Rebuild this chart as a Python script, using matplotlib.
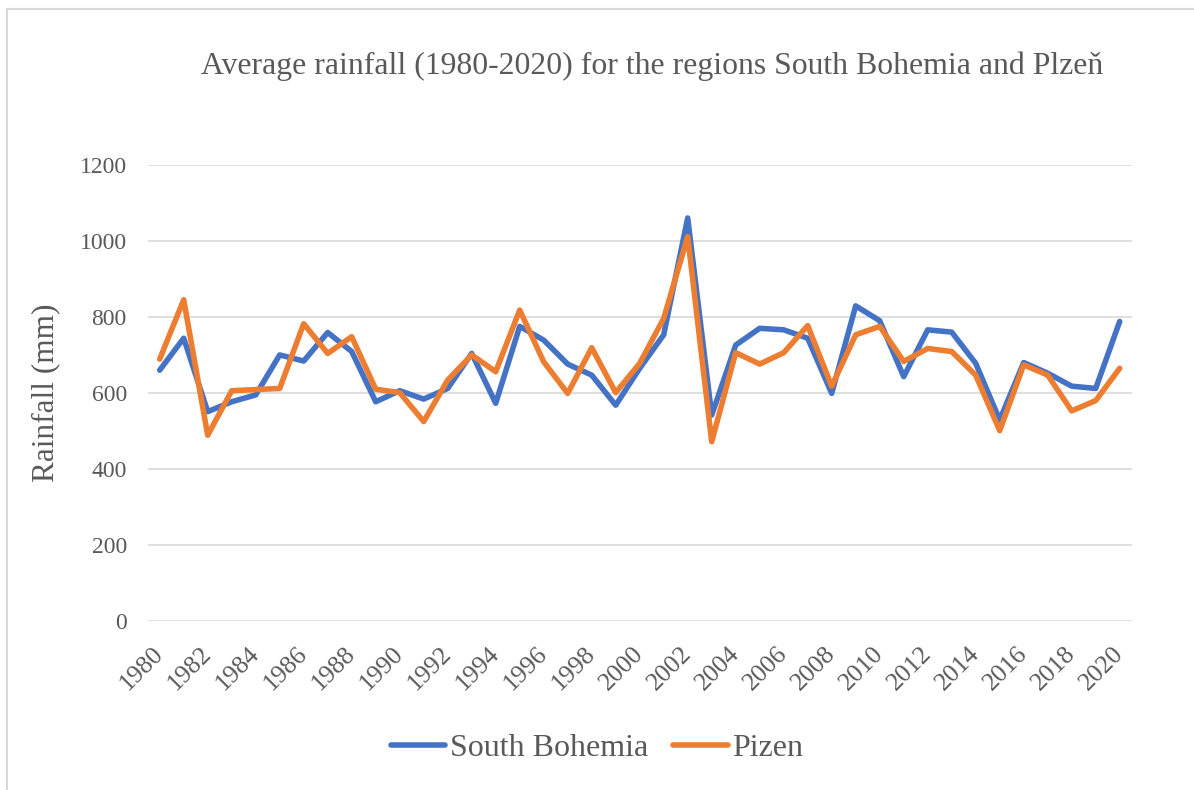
import matplotlib
matplotlib.use("Agg")
import matplotlib.pyplot as plt
from matplotlib.patches import Rectangle

plt.rcParams['font.family'] = ['Liberation Serif', 'DejaVu Serif']

years = list(range(1980, 2021))
south_bohemia = [660, 744, 551, 577, 595, 700, 684, 759, 709, 577,
                 606, 584, 612, 704, 573, 775, 739, 676, 647, 568,
                 665, 753, 1060, 542, 726, 770, 766, 744, 599, 829,
                 790, 643, 766, 760, 678, 529, 680, 652, 618, 612,
                 788]
pizen = [689, 845, 489, 606, 609, 612, 782, 704, 748, 610,
         601, 525, 634, 700, 656, 818, 682, 599, 719, 601,
         678, 796, 1011, 472, 706, 676, 706, 777, 618, 753,
         775, 683, 717, 709, 647, 501, 674, 647, 553, 580,
         665]
y_ticks = [0, 200, 400, 600, 800, 1000, 1200]
x_ticks = years[::2]

text_color = '#595959'
grid_color = '#d9d9d9'

W, H = 1194, 790
fig = plt.figure(figsize=(W / 100, H / 100), dpi=100)
fig.patch.set_facecolor('white')

# light frame around the chart area
fig.add_artist(Rectangle((7 / W, -0.05), 1.1, 1 - 9 / H + 0.05,
                         transform=fig.transFigure, fill=False,
                         edgecolor=grid_color, linewidth=1.5))

ax = fig.add_axes([147.7 / W, 1 - 621.3 / H, (1131.7 - 147.7) / W, (621.3 - 164.7) / H])
ax.set_xlim(1979.5, 2020.5)
ax.set_ylim(0, 1200)
for s in ax.spines.values():
    s.set_visible(False)
ax.set_yticks(y_ticks)
ax.yaxis.grid(True, color=grid_color, linewidth=1.2)
ax.set_axisbelow(True)
ax.tick_params(axis='y', length=0, pad=15, labelsize=17, labelcolor=text_color)
ax.set_xticks(x_ticks)
ax.set_xticklabels([str(y) for y in x_ticks], rotation=45, ha='right', va='center',
                   rotation_mode='anchor')
ax.tick_params(axis='x', length=0, pad=21, labelsize=18.5, labelcolor=text_color)

l1, = ax.plot(years, south_bohemia, color='#4472C4', linewidth=4.0,
              solid_joinstyle='round', solid_capstyle='round', label='South Bohemia')
l2, = ax.plot(years, pizen, color='#ED7D31', linewidth=4.0,
              solid_joinstyle='round', solid_capstyle='round', label='Pizen')

ax.set_ylabel('Rainfall (mm)', fontsize=22.5, color=text_color, labelpad=14)

fig.text(652 / W, 1 - 66 / H, 'Average rainfall (1980-2020) for the regions South Bohemia and Plzeň',
         ha='center', va='center', fontsize=22.9, color=text_color)

leg = fig.legend(handles=[l1, l2], loc='center', bbox_to_anchor=(597 / W, 1 - 748 / H),
                 ncol=2, frameon=False, fontsize=23, handlelength=1.7,
                 handletextpad=0.15, columnspacing=0.8, labelcolor=text_color)

fig.savefig('out.png', dpi=100, facecolor='white')
